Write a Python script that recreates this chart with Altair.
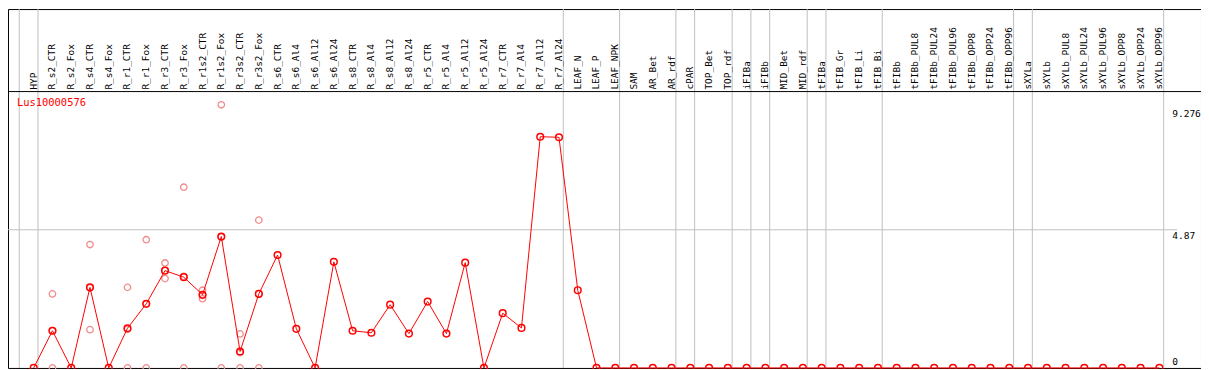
import altair as alt
import pandas as pd

categories = [
    "HYP", "R_s2_CTR", "R_s2_Fox", "R_s4_CTR", "R_s4_Fox", "R_r1_CTR", "R_r1_Fox",
    "R_r3_CTR", "R_r3_Fox", "R_r1s2_CTR", "R_r1s2_Fox", "R_r3s2_CTR", "R_r3s2_Fox",
    "R_s6_CTR", "R_s6_Al4", "R_s6_Al12", "R_s6_Al24", "R_s8_CTR", "R_s8_Al4",
    "R_s8_Al12", "R_s8_Al24", "R_r5_CTR", "R_r5_Al4", "R_r5_Al12", "R_r5_Al24",
    "R_r7_CTR", "R_r7_Al4", "R_r7_Al12", "R_r7_Al24", "LEAF_N", "LEAF_P", "LEAF_NPK",
    "SAM", "AR_Bet", "AR_rdf", "cPAR", "TOP_Bet", "TOP_rdf", "iFIBa", "iFIBb",
    "MID_Bet", "MID_rdf", "tFIBa", "tFIB_Gr", "tFIB_Li", "tFIB_Bi", "tFIBb",
    "tFIBb_PUL8", "tFIBb_PUL24", "tFIBb_PUL96", "tFIBb_OPP8", "tFIBb_OPP24",
    "tFIBb_OPP96", "sXYLa", "sXYLb", "sXYLb_PUL8", "sXYLb_PUL24", "sXYLb_PUL96",
    "sXYLb_OPP8", "sXYLb_OPP24", "sXYLb_OPP96",
]

mean_values = [
    0, 1.31, 0, 2.84, 0, 1.40, 2.26, 3.43, 3.20, 2.58, 4.63, 0.58, 2.61,
    3.98, 1.38, 0, 3.74, 1.31, 1.24, 2.23, 1.21, 2.34, 1.21, 3.71, 0,
    1.93, 1.41, 8.15, 8.13, 2.74, 0, 0,
    0, 0, 0, 0, 0, 0, 0, 0, 0, 0, 0, 0, 0, 0, 0,
    0, 0, 0, 0, 0, 0, 0, 0, 0, 0, 0, 0, 0, 0,
]

rep_categories = [
    "R_s2_CTR", "R_s2_CTR", "R_s2_CTR",
    "R_s4_CTR", "R_s4_CTR", "R_s4_CTR",
    "R_r1_CTR", "R_r1_CTR", "R_r1_CTR",
    "R_r1_Fox", "R_r1_Fox", "R_r1_Fox",
    "R_r3_CTR", "R_r3_CTR", "R_r3_CTR",
    "R_r3_Fox", "R_r3_Fox", "R_r3_Fox",
    "R_r1s2_CTR", "R_r1s2_CTR", "R_r1s2_CTR",
    "R_r1s2_Fox", "R_r1s2_Fox", "R_r1s2_Fox",
    "R_r3s2_CTR", "R_r3s2_CTR", "R_r3s2_CTR",
    "R_r3s2_Fox", "R_r3s2_Fox", "R_r3s2_Fox",
]
rep_values = [
    2.61, 0, 1.32,
    4.35, 1.35, 2.82,
    2.84, 0, 1.36,
    4.52, 0, 2.26,
    3.70, 3.15, 3.44,
    6.37, 0, 3.23,
    2.74, 2.44, 2.56,
    9.276, 0, 4.61,
    1.20, 0, 0.54,
    5.21, 0, 2.62,
]

group_ends = [-1, 0, 28, 31, 34, 35, 37, 38, 39, 41, 42, 45, 52, 53, 60]
tick_values = [9.276, 4.87, 0]
tick_labels = ["9.276", "4.87", "0"]
gridline_values = [4.87]
gene_name = "Lus10000576"

W, H = 1200, 361
FONT = "DejaVu Sans Mono"
xscale = alt.Scale(domain=[-1.369, 62.22], nice=False, zero=False)
yscale = alt.Scale(domain=[0, 12.65], nice=False, zero=False)

idx = {c: i for i, c in enumerate(categories)}
main_df = pd.DataFrame({"cat": categories, "i": list(range(len(categories))), "v": mean_values})
rep_df = pd.DataFrame({"cat": rep_categories, "i": [idx[c] for c in rep_categories], "v": rep_values})
sep_df = pd.DataFrame({"g": group_ends})
grid_df = pd.DataFrame({"v": gridline_values})
tick_df = pd.DataFrame({"v": tick_values, "label": tick_labels})
one = alt.Data(values=[{}])

seps = alt.Chart(sep_df).transform_calculate(xp="datum.g + 0.23").mark_rule(
    color="#c0c0c0", strokeWidth=1
).encode(
    x=alt.X("xp:Q", scale=xscale, axis=None),
    y=alt.value(0), y2=alt.value(H),
)

hgrid = alt.Chart(grid_df).mark_rule(color="#c0c0c0", strokeWidth=1).encode(
    y=alt.Y("v:Q", scale=yscale, axis=None),
    x=alt.value(0), x2=alt.value(1176),
)

header_line = alt.Chart(one).mark_rule(color="black", strokeWidth=1).encode(
    y=alt.value(83), x=alt.value(0), x2=alt.value(W),
)

labels = alt.Chart(main_df).mark_text(
    angle=270, align="left", baseline="middle", font=FONT, fontSize=9.5, color="black"
).encode(
    x=alt.X("i:Q", scale=xscale, axis=None),
    y=alt.value(81),
    text="cat:N",
)

title = alt.Chart(one).mark_text(
    align="left", baseline="alphabetic", font=FONT, fontSize=10.5, color="red"
).encode(
    x=alt.value(9), y=alt.value(98), text=alt.value(gene_name),
)

tick_layers = []
for val, dy in zip(tick_values, [12, 9.4, -3.2]):
    tick_layers.append(
        alt.Chart(tick_df).transform_filter(f"datum.v == {val}").mark_text(
            align="left", baseline="alphabetic", font=FONT, fontSize=9.6, color="black", dy=dy
        ).encode(
            x=alt.value(1171),
            y=alt.Y("v:Q", scale=yscale, axis=None),
            text="label:N",
        )
    )

reps = alt.Chart(rep_df).mark_point(
    shape="circle", filled=False, color="#f08c8c", size=42, strokeWidth=1.3, opacity=1
).encode(
    x=alt.X("i:Q", scale=xscale, axis=None),
    y=alt.Y("v:Q", scale=yscale, axis=None),
)

line = alt.Chart(main_df).mark_line(color="red", strokeWidth=1).encode(
    x=alt.X("i:Q", scale=xscale, axis=None),
    y=alt.Y("v:Q", scale=yscale, axis=None),
)

pts = alt.Chart(main_df).mark_point(
    shape="circle", filled=False, color="red", size=45, strokeWidth=1.5, opacity=1
).encode(
    x=alt.X("i:Q", scale=xscale, axis=None),
    y=alt.Y("v:Q", scale=yscale, axis=None),
)

chart = alt.layer(
    seps, hgrid, header_line, labels, title, *tick_layers, reps, line, pts
).properties(
    width=W, height=H, padding=0, autosize=alt.AutoSizeParams(type="none"),
    background="white",
).configure_view(stroke="black", strokeWidth=1)

chart.save("out.html", embed_options={"renderer": "svg", "actions": False})
